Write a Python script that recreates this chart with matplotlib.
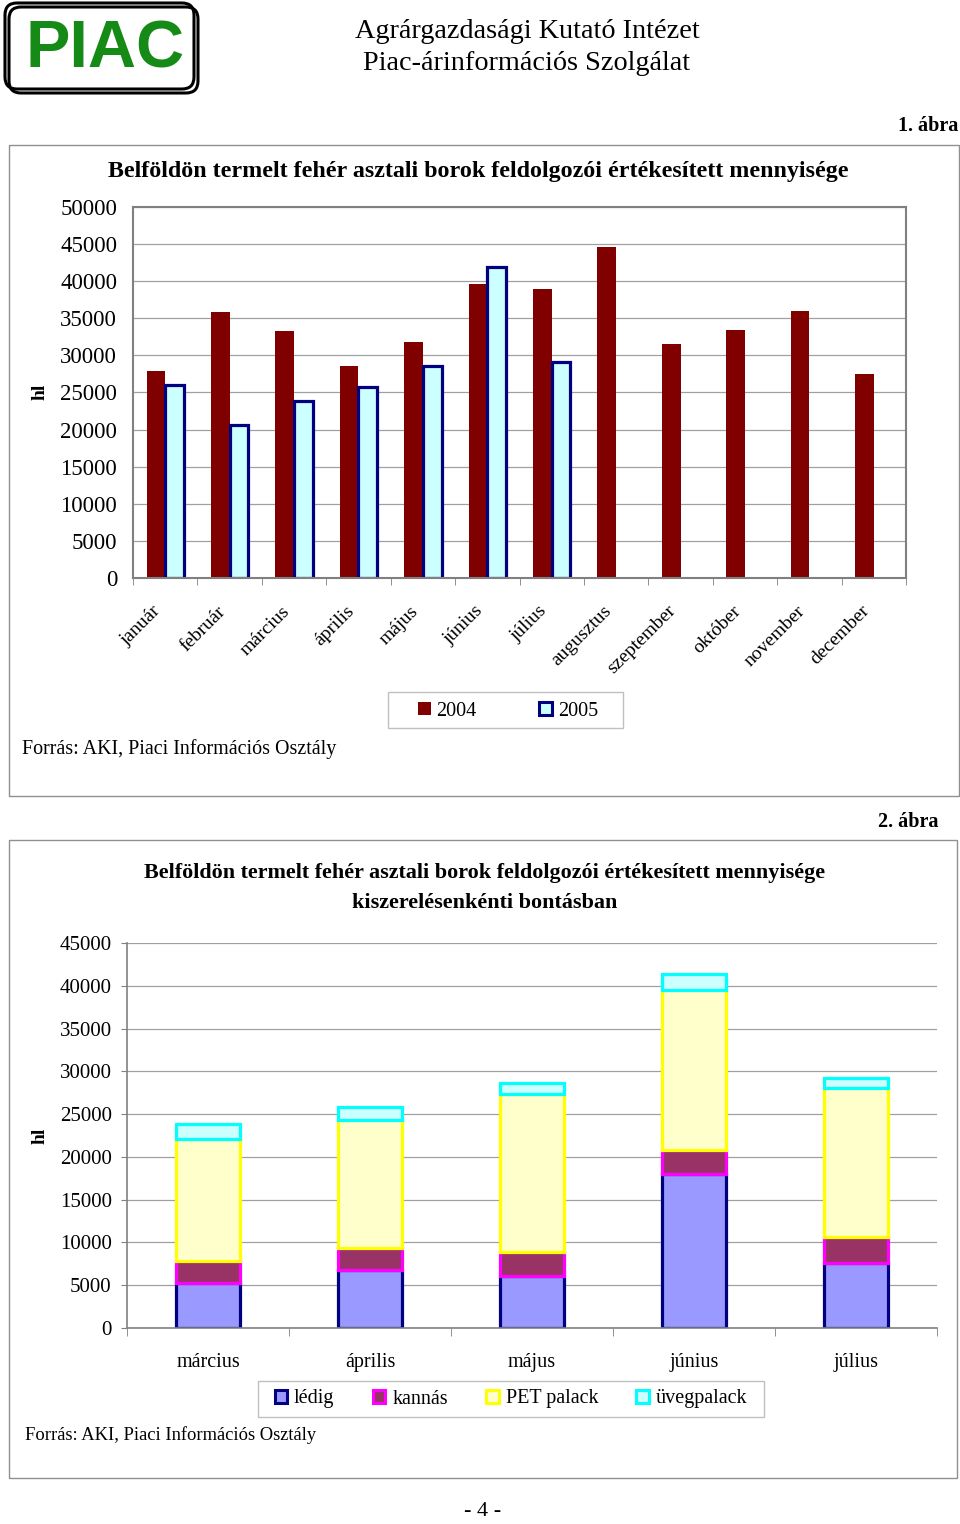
import matplotlib.pyplot as plt
from matplotlib.patches import Rectangle, FancyBboxPatch, Patch
from matplotlib.transforms import ScaledTranslation
import numpy as np

# chart 1 data
months = ['január', 'február', 'március', 'április', 'május', 'június',
          'július', 'augusztus', 'szeptember', 'október', 'november', 'december']
y2004 = [27900, 35900, 33300, 28600, 31800, 39600, 38900, 44600, 31500, 33400, 36000, 27500]
y2005 = [26000, 20600, 23800, 25700, 28600, 41900, 29100]

# chart 2 data
months2 = ['március', 'április', 'május', 'június', 'július']
ledig = [5270, 6830, 6040, 17950, 7610]
kannas = [2610, 2490, 2810, 2850, 3050]
pet = [14250, 14950, 18470, 18730, 17440]
uveg = [1670, 1560, 1370, 1800, 1090]

SERIF = 'Liberation Serif'
W, H = 960, 1524


def main():
    plt.rcParams['font.family'] = [SERIF, 'DejaVu Serif']
    fig = plt.figure(figsize=(W / 100, H / 100), dpi=100)

    # overlay in pixel coordinates for page decorations
    bg = fig.add_axes([0, 0, 1, 1], zorder=0)
    bg.set_xlim(0, W)
    bg.set_ylim(H, 0)
    bg.axis('off')

    # logo
    bg.add_patch(FancyBboxPatch((9, 7), 189, 86, boxstyle='round,pad=0,rounding_size=12',
                                fill=False, ec='black', lw=2.2))
    bg.add_patch(FancyBboxPatch((5, 3), 189, 86, boxstyle='round,pad=0,rounding_size=12',
                                fill=False, ec='black', lw=2.2))
    bg.text(105, 51, 'PIAC', family='Liberation Sans', weight='bold', size=48,
            color='#168a16', ha='center', va='center')
    bg.text(527, 32, 'Agrárgazdasági Kutató Intézet', size=20.3, ha='center', va='center')
    bg.text(527, 64, 'Piac-árinformációs Szolgálat', size=20.3, ha='center', va='center')

    # frames
    bg.add_patch(Rectangle((9, 145), 950, 651, fill=False, ec='#909090', lw=1))
    bg.add_patch(Rectangle((9, 840), 948, 638, fill=False, ec='#909090', lw=1))
    bg.text(958, 126, '1. ábra', size=14.5, weight='bold', ha='right', va='center')
    bg.text(938, 822, '2. ábra', size=14.5, weight='bold', ha='right', va='center')

    bg.text(478, 172, 'Belföldön termelt fehér asztali borok feldolgozói értékesített mennyisége',
            size=17.3, weight='bold', ha='center', va='center')
    bg.text(485, 888, 'Belföldön termelt fehér asztali borok feldolgozói értékesített mennyisége\n'
            'kiszerelésenkénti bontásban',
            size=15.9, weight='bold', ha='center', va='center', linespacing=1.62)
    bg.text(40, 392, 'hl', size=14, weight='bold', rotation=90, ha='center', va='center')
    bg.text(40, 1136, 'hl', size=14, weight='bold', rotation=90, ha='center', va='center')
    bg.text(22, 749, 'Forrás: AKI, Piaci Információs Osztály', size=14.4, ha='left', va='center')
    bg.text(25, 1435, 'Forrás: AKI, Piaci Információs Osztály', size=13.3, ha='left', va='center')
    bg.text(483, 1512, '- 4 -', size=16, ha='center', va='center')

    # legend frames
    bg.add_patch(Rectangle((388, 692), 235, 36, fill=False, ec='#c0c0c0', lw=1))
    bg.add_patch(Rectangle((258, 1381), 506, 36, fill=False, ec='#c0c0c0', lw=1))

    grid_c = '#a0a0a0'

    # chart 1
    ax1 = fig.add_axes([133 / W, 1 - 578 / H, 773 / W, 371 / H], zorder=2)
    ax1.patch.set_alpha(0)
    x = np.arange(len(months))
    w = 0.29
    ax1.bar(x - w / 2, y2004, w, color='#800000', lw=0)
    x5 = np.arange(len(y2005))
    ax1.bar(x5 + w / 2, y2005, w, color='#ccffff', edgecolor='#000080', lw=2.3)
    ax1.set_xlim(-0.5, len(months) - 0.5)
    ax1.set_ylim(0, 50000)
    ax1.set_yticks(np.arange(0, 50001, 5000))
    ax1.yaxis.grid(True, color=grid_c, lw=0.9)
    ax1.set_axisbelow(True)
    for s in ax1.spines.values():
        s.set_color('#808080')
        s.set_linewidth(1.5)
    ax1.tick_params(axis='y', length=0, labelsize=16.5, pad=11.5)
    ax1.set_xticks(x)
    ax1.set_xticklabels(months, rotation=45, ha='right', va='center',
                        rotation_mode='anchor', fontsize=14)
    ax1.tick_params(axis='x', which='major', length=0, pad=22)
    shift = ScaledTranslation(-7 / 100, 0, fig.dpi_scale_trans)
    for lab in ax1.get_xticklabels():
        lab.set_transform(lab.get_transform() + shift)
    ax1.set_xticks(np.arange(-0.5, len(months), 1), minor=True)
    ax1.tick_params(axis='x', which='minor', length=5, color='#808080', direction='out')

    h1 = [Patch(fc='#800000', ec='#800000', lw=0),
          Patch(fc='#ccffff', ec='#000080', lw=2.2)]
    lg1 = bg.legend(h1, ['2004', '2005'], loc='center', bbox_to_anchor=(508 / W, 1 - 711 / H),
                    bbox_transform=fig.transFigure, ncol=2, frameon=False,
                    fontsize=14.5, handlelength=0.62, handleheight=0.62,
                    handletextpad=0.3, columnspacing=3.1, borderpad=0.2)
    bg.add_artist(lg1)

    # chart 2
    ax2 = fig.add_axes([127 / W, 1 - 1328 / H, 810 / W, 385 / H], zorder=2)
    ax2.patch.set_alpha(0)
    x2 = np.arange(len(months2))
    bw = 0.4
    lw = 2.3
    b = np.zeros(len(months2))
    series = [(ledig, '#9999ff', '#000080'), (kannas, '#993366', '#ff00ff'),
              (pet, '#ffffcc', '#ffff00'), (uveg, '#ccffff', '#00ffff')]
    for vals, fc, ec in series:
        ax2.bar(x2, vals, bw, bottom=b, color=fc, edgecolor=ec, lw=lw)
        b = b + np.array(vals)
    ax2.set_xlim(-0.5, len(months2) - 0.5)
    ax2.set_ylim(0, 45000)
    ax2.set_yticks(np.arange(0, 45001, 5000))
    ax2.yaxis.grid(True, color=grid_c, lw=0.9)
    ax2.set_axisbelow(True)
    ax2.spines['top'].set_visible(False)
    ax2.spines['right'].set_visible(False)
    for s in ('left', 'bottom'):
        ax2.spines[s].set_color('#808080')
        ax2.spines[s].set_linewidth(1.2)
    ax2.tick_params(axis='y', length=4, color='#808080', labelsize=15, pad=7)
    ax2.set_xticks(x2)
    ax2.set_xticklabels(months2, fontsize=14.5)
    ax2.tick_params(axis='x', which='major', length=0, pad=18)
    ax2.set_xticks(np.arange(-0.5, len(months2), 1), minor=True)
    ax2.tick_params(axis='x', which='minor', length=6, color='#808080', direction='out')

    h2 = [Patch(fc=fc, ec=ec, lw=2.2) for _, fc, ec in series]
    lg2 = bg.legend(h2, ['lédig', 'kannás', 'PET palack', 'üvegpalack'], loc='center',
                    bbox_to_anchor=(511 / W, 1 - 1399 / H), bbox_transform=fig.transFigure,
                    ncol=4, frameon=False, fontsize=14.5,
                    handlelength=0.62, handleheight=0.62, handletextpad=0.35,
                    columnspacing=1.9, borderpad=0.2)

    fig.savefig('out.png', dpi=100)


if __name__ == "__main__":
    main()
